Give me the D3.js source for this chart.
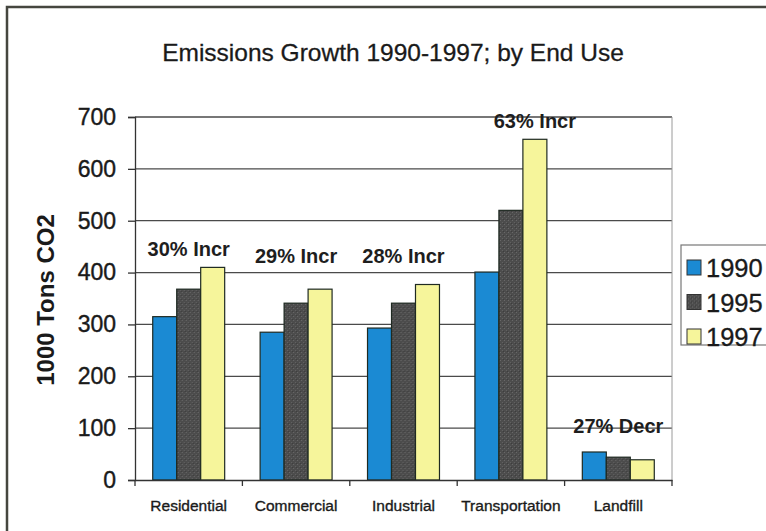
<!DOCTYPE html>
<html>
<head>
<meta charset="utf-8">
<script src="https://cdn.jsdelivr.net/npm/d3@7"></script>
<style>
  body { margin: 0; background: #fff; }
  #viz { width: 766px; height: 531px; }
</style>
</head>
<body>
<div id="viz"></div>
<script>
// chart data
const categories = ["Residential", "Commercial", "Industrial", "Transportation", "Landfill"];
const years = ["1990", "1995", "1997"];
const values1990 = [315, 285, 293, 401, 54];
const values1995 = [368, 341, 341, 520, 44];
const values1997 = [410, 368, 377, 657, 39];
const yTicks = [0, 100, 200, 300, 400, 500, 600, 700];
const notes = ["30% Incr", "29% Incr", "28% Incr", "63% Incr", "27% Decr"];
const noteLevel = [432, 418, 418, 679, 91];     // value height where the text box sits
const noteOver = ["group", "group", "group", "1997", "group"];

const series = [values1990, values1995, values1997];
const colors = ["#1b8ad3", "#525252", "#f6f59b"];

const width = 766;
const height = 531;
const plot = {left: 135, right: 672, top: 117, bottom: 480};

const svg = d3.select("#viz")
  .append("svg")
  .attr("width", width)
  .attr("height", height)
  .style("font-family", "Arial, 'Liberation Sans', sans-serif");

// rough texture for the 1995 bars
const defs = svg.append("defs");
const pat = defs.append("pattern")
  .attr("id", "grain")
  .attr("width", 4).attr("height", 4)
  .attr("patternUnits", "userSpaceOnUse");
pat.append("rect").attr("width", 4).attr("height", 4).attr("fill", "#4c4c4c");
pat.append("rect").attr("x", 1).attr("y", 0).attr("width", 1).attr("height", 1).attr("fill", "#6a6a6a");
pat.append("rect").attr("x", 3).attr("y", 2).attr("width", 1).attr("height", 1).attr("fill", "#636363");
pat.append("rect").attr("x", 0).attr("y", 3).attr("width", 1).attr("height", 1).attr("fill", "#3c3c3c");

// outer frame (only top and left show)
svg.append("path")
  .attr("d", `M7,${height} L7,7 L${width},7`)
  .attr("fill", "none")
  .attr("stroke", "#45463f")
  .attr("stroke-width", 2.5);

svg.append("text")
  .attr("x", 393)
  .attr("y", 61)
  .attr("text-anchor", "middle")
  .attr("font-size", 24.5)
  .attr("fill", "#1a1a1a")
  .attr("stroke", "#1a1a1a")
  .attr("stroke-width", 0.3)
  .text("Emissions Growth 1990-1997; by End Use");

const x0 = d3.scaleBand()
  .domain(categories)
  .range([plot.left, plot.right])
  .paddingInner(0.33)
  .paddingOuter(0.165);

const x1 = d3.scaleBand()
  .domain(years)
  .range([0, x0.bandwidth()]);

const y = d3.scaleLinear()
  .domain([0, 700])
  .range([plot.bottom, plot.top]);

// gridlines
svg.append("g")
  .selectAll("line")
  .data(yTicks.filter(d => d > 0))
  .join("line")
  .attr("x1", plot.left)
  .attr("x2", plot.right)
  .attr("y1", d => y(d))
  .attr("y2", d => y(d))
  .attr("stroke", "#4a4a4a")
  .attr("stroke-width", 1.3);

// right edge of plot area
svg.append("line")
  .attr("x1", plot.right).attr("x2", plot.right)
  .attr("y1", plot.top).attr("y2", plot.bottom)
  .attr("stroke", "#9a9a9a")
  .attr("stroke-width", 1);

// bars
const groups = svg.append("g")
  .selectAll("g")
  .data(categories)
  .join("g")
  .attr("transform", d => `translate(${x0(d)},0)`);

groups.selectAll("rect")
  .data((c, i) => years.map((yr, k) => ({year: yr, value: series[k][i], k: k})))
  .join("rect")
  .attr("x", d => x1(d.year))
  .attr("y", d => y(d.value))
  .attr("width", x1.bandwidth())
  .attr("height", d => y(0) - y(d.value))
  .attr("fill", d => d.k === 1 ? "url(#grain)" : colors[d.k])
  .attr("stroke", "#1f2a22")
  .attr("stroke-width", 1.2);

// y axis
const yAxis = svg.append("g")
  .attr("transform", `translate(${plot.left},0)`)
  .call(d3.axisLeft(y).tickValues(yTicks).tickSize(7).tickPadding(12));
yAxis.select(".domain").attr("stroke", "#333").attr("stroke-width", 1.3);
yAxis.selectAll(".tick line").attr("stroke", "#333").attr("stroke-width", 1.3);
yAxis.selectAll("text")
  .attr("font-size", 23)
  .attr("font-family", "Arial, 'Liberation Sans', sans-serif")
  .attr("fill", "#1a1a1a")
  .attr("stroke", "#1a1a1a")
  .attr("stroke-width", 0.4);

// x axis
const xAxis = svg.append("g")
  .attr("transform", `translate(0,${plot.bottom})`)
  .call(d3.axisBottom(x0).tickSize(0).tickPadding(20));
xAxis.select(".domain").attr("stroke", "#333").attr("stroke-width", 1.3);
xAxis.selectAll("text")
  .attr("font-size", 15.5)
  .attr("font-family", "Arial, 'Liberation Sans', sans-serif")
  .attr("fill", "#1a1a1a")
  .attr("stroke", "#1a1a1a")
  .attr("stroke-width", 0.35);

// category boundary ticks
const step = x0.step();
svg.append("g")
  .selectAll("line")
  .data(d3.range(categories.length + 1))
  .join("line")
  .attr("x1", i => plot.left + i * step)
  .attr("x2", i => plot.left + i * step)
  .attr("y1", plot.bottom)
  .attr("y2", plot.bottom + 6)
  .attr("stroke", "#333")
  .attr("stroke-width", 1.3);

// y axis title
svg.append("text")
  .attr("transform", `translate(54,300) rotate(-90)`)
  .attr("text-anchor", "middle")
  .attr("font-size", 24)
  .attr("font-weight", "bold")
  .attr("fill", "#1a1a1a")
  .text("1000 Tons CO2");

// change notes
svg.append("g")
  .selectAll("text")
  .data(categories)
  .join("text")
  .attr("x", (c, i) => noteOver[i] === "group"
    ? x0(c) + x0.bandwidth() / 2
    : x0(c) + x1(noteOver[i]) + x1.bandwidth() / 2)
  .attr("y", (c, i) => y(noteLevel[i]))
  .attr("text-anchor", "middle")
  .attr("font-size", 20)
  .attr("font-weight", "bold")
  .attr("fill", "#1e1e1e")
  .text((c, i) => notes[i]);

// legend
const legend = svg.append("g").attr("transform", "translate(681,245)");
legend.append("rect")
  .attr("width", 100)
  .attr("height", 100)
  .attr("fill", "#fff")
  .attr("stroke", "#777")
  .attr("stroke-width", 1.2);
const items = legend.selectAll("g")
  .data(years)
  .join("g")
  .attr("transform", (d, i) => `translate(6,${23 + i * 34.5})`);
items.append("rect")
  .attr("y", -8)
  .attr("width", 14)
  .attr("height", 15)
  .attr("fill", (d, i) => i === 1 ? "url(#grain)" : colors[i])
  .attr("stroke", "#333")
  .attr("stroke-width", 1);
items.append("text")
  .attr("x", 19)
  .attr("y", 9)
  .attr("font-size", 25.5)
  .attr("fill", "#1a1a1a")
  .attr("stroke", "#1a1a1a")
  .attr("stroke-width", 0.3)
  .text(d => d);
</script>
</body>
</html>
